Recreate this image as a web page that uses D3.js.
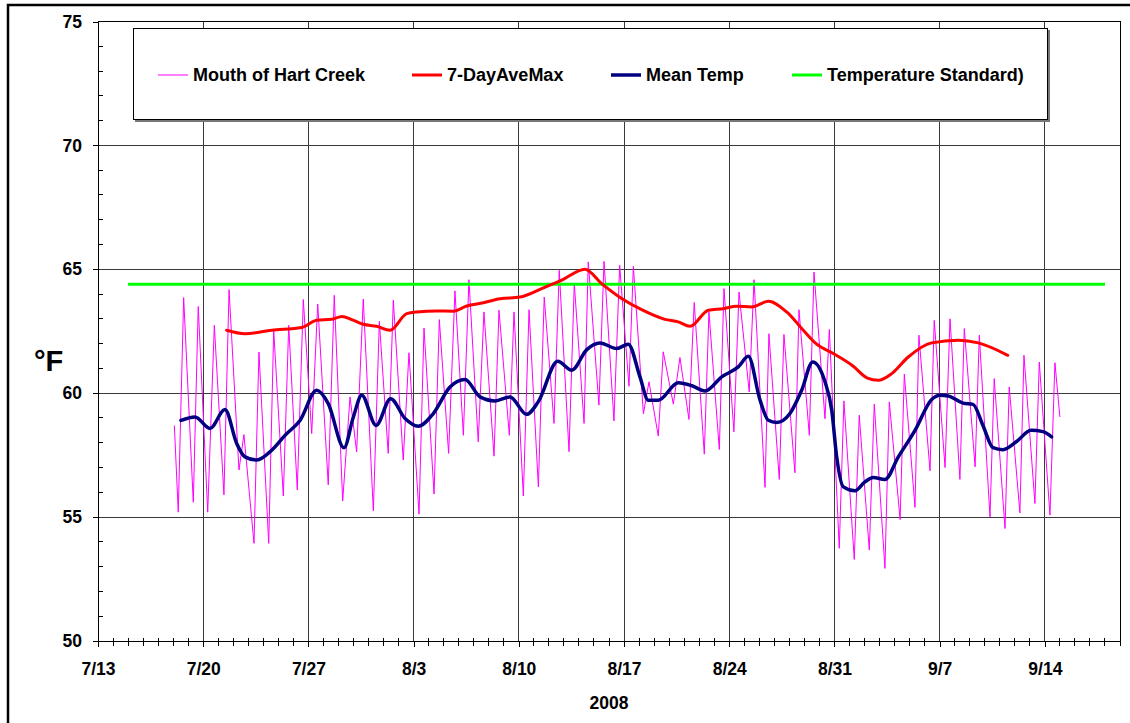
<!DOCTYPE html>
<html><head><meta charset="utf-8">
<script src="https://cdn.jsdelivr.net/npm/d3@7"></script>
<style>
body{margin:0;background:#fff}
svg{display:block}
text{font-family:"Liberation Sans",Arial,Helvetica,sans-serif;font-weight:bold;fill:#000}
</style>
</head><body>
<svg id="c" width="1130" height="723"></svg>
<script>
// ---------------- data ----------------
const xDomain = ["2008-07-13", "2008-09-19"];
const xTickLabels = ["7/13","7/20","7/27","8/3","8/10","8/17","8/24","8/31","9/7","9/14"];
const yDomain = [50, 75];
const yTickValues = [50, 55, 60, 65, 70, 75];
const xTitle = "2008";
const yTitle = "°F";
const seriesNames = ["Mouth of Hart Creek", "7-DayAveMax", "Mean Temp", "Temperature Standard)"];

// Mouth of Hart Creek (days after 7/13 00:00, °F) - daily lows/highs as read
const hartDay = [5.08,5.34,5.70,6.34,6.67,7.30,7.74,8.38,8.72,9.38,
  9.71,10.38,10.71,11.36,11.69,12.33,12.69,13.26,13.66,14.22,
  14.62,15.32,15.72,16.28,16.77,17.21,17.65,18.32,18.72,19.31,
  19.65,20.31,20.69,21.36,21.69,22.36,22.71,23.33,23.75,24.31,
  24.68,25.30,25.68,26.35,26.68,27.37,27.68,28.30,28.68,29.30,
  29.69,30.34,30.69,31.34,31.69,32.34,32.62,33.33,33.67,34.33,
  34.71,35.33,35.62,36.29,36.66,37.28,37.61,38.28,38.72,39.32,
  39.67,40.34,40.65,41.34,41.65,42.31,42.65,43.33,43.65,44.38,
  44.64,45.33,45.64,46.37,46.64,47.33,47.64,48.37,48.66,49.32,
  49.63,50.32,50.65,51.32,51.65,52.36,52.65,53.37,53.65,54.36,
  54.62,55.36,55.64,56.36,56.69,57.35,57.64,58.36,58.64,59.35,
  59.63,60.35,60.63,61.34,61.61,62.34,62.63,63.34,63.67,64.00];
const hartTemp = [58.7,55.2,63.86,55.6,63.5,55.2,62.74,55.9,64.18,56.9,
  58.33,53.94,61.66,53.94,62.54,55.85,62.74,56.1,63.78,58.37,
  63.6,56.3,63.95,55.65,59.85,57.63,63.8,55.25,62.9,57.57,
  63.75,57.3,61.63,55.12,62.63,55.93,62.97,57.57,64.13,58.3,
  64.58,58.04,63.28,57.46,63.35,58.3,63.28,55.85,63.37,56.22,
  63.88,58.78,64.96,57.64,64.42,58.78,65.3,59.52,65.32,58.88,
  65.16,60.28,65.12,59.17,60.46,58.27,61.67,59.56,61.44,58.94,
  63.66,57.54,63.28,57.73,64.22,58.44,64.08,60.05,64.58,56.2,
  62.4,56.52,62.37,56.79,63.37,58.3,64.89,58.97,62.57,53.74,
  59.69,53.29,59.11,53.67,59.56,52.93,59.65,54.9,60.77,55.39,
  62.34,56.87,62.94,57.0,63.0,56.52,62.61,57.03,62.34,55.01,
  60.59,54.54,60.25,55.17,61.53,55.55,61.26,55.08,61.23,59.04];

// 7-DayAveMax
const aveMaxDay = [8.56,9.78,11.56,13.55,14.55,15.55,16.23,16.88,17.65,18.54,
  19.43,20.54,21.20,22.53,23.64,24.53,25.64,26.75,28.08,29.52,
  30.85,32.40,33.51,34.84,36.17,37.72,38.61,39.39,40.61,41.60,
  42.49,43.49,44.60,45.82,46.93,47.82,48.92,50.25,51.16,51.92,
  52.81,53.91,55.47,57.24,58.57,60.53];
const aveMaxTemp = [62.54,62.4,62.54,62.65,62.94,62.98,63.1,62.97,62.78,62.7,
  62.54,63.21,63.28,63.32,63.31,63.52,63.65,63.81,63.88,64.22,
  64.56,65.0,64.42,63.82,63.37,62.98,62.88,62.7,63.35,63.41,
  63.51,63.48,63.71,63.28,62.54,61.98,61.6,61.09,60.62,60.52,
  60.79,61.46,62.03,62.14,62.03,61.53];

// Mean Temp
const meanDay = [5.52,6.45,7.45,8.45,9.23,9.78,10.56,11.56,12.44,13.44,
  14.55,15.32,16.37,16.99,17.55,18.50,19.47,20.43,21.31,22.31,
  23.42,24.42,25.42,26.41,27.41,28.52,29.29,30.59,31.52,32.52,
  33.40,34.51,35.28,36.06,36.61,37.28,38.61,39.52,40.39,41.50,
  42.60,43.27,44.05,44.60,45.16,46.04,46.82,47.55,48.37,48.82,
  49.15,49.59,50.37,51.03,51.58,52.36,53.25,54.36,55.47,56.02,
  56.57,57.55,58.22,58.88,59.55,60.21,61.12,62.08,62.87,63.45];
const meanTemp = [58.9,59.04,58.58,59.34,57.97,57.43,57.3,57.7,58.3,58.9,
  60.12,59.58,57.8,59.04,59.92,58.7,59.78,58.98,58.67,59.18,
  60.25,60.55,59.85,59.69,59.85,59.15,59.65,61.29,60.93,61.76,
  62.03,61.8,61.98,60.66,59.72,59.72,60.42,60.3,60.09,60.66,
  61.06,61.49,59.72,58.91,58.82,59.18,60.12,61.26,60.46,59.31,
  57.43,56.22,56.06,56.42,56.6,56.52,57.43,58.5,59.75,59.92,
  59.89,59.6,59.55,58.7,57.8,57.72,58.05,58.5,58.45,58.24];

// Temperature Standard
const standardDay = [2, 67];
const standardTemp = [64.4, 64.4];

// ---------------- chart ----------------
const svg = d3.select("#c");
const P = {left: 98, top: 21.5, right: 1120, bottom: 641};
const parse = d3.utcParse("%Y-%m-%d");
const start = parse(xDomain[0]), end = parse(xDomain[1]);
const dayDate = d => new Date(start.getTime() + d * 864e5);
const x = d3.scaleUtc().domain([start, end]).range([P.left, P.right]);
const y = d3.scaleLinear().domain(yDomain).range([P.bottom, P.top]);
const tickDates = xTickLabels.map(l => d3.utcParse("%Y/%m/%d")("2008/" + l));

// outer frame
svg.append("rect").attr("x", 8).attr("y", 5).attr("width", 1150).attr("height", 760)
  .attr("fill", "none").attr("stroke", "#000").attr("stroke-width", 2.5);

// gridlines
const grid = svg.append("g").attr("stroke", "#3a3a3a").attr("stroke-width", 1).attr("shape-rendering", "crispEdges");
grid.selectAll("line.h").data(yTickValues.filter(v => v > yDomain[0] && v < yDomain[1])).join("line")
  .attr("x1", P.left).attr("x2", P.right).attr("y1", d => y(d)).attr("y2", d => y(d));
grid.selectAll("line.v").data(tickDates.slice(1)).join("line")
  .attr("y1", P.top).attr("y2", P.bottom).attr("x1", d => x(d)).attr("x2", d => x(d));

// plot frame (top & right)
svg.append("rect").attr("x", P.left).attr("y", P.top).attr("width", P.right - P.left).attr("height", P.bottom - P.top)
  .attr("fill", "none").attr("stroke", "#000").attr("stroke-width", 1).attr("shape-rendering", "crispEdges");

// series
const plot = svg.append("g");
const mk = (days, vals) => days.map((d, i) => [dayDate(d), vals[i]]);
const lineLin = d3.line().x(d => x(d[0])).y(d => y(d[1]));
const lineSm = d3.line().x(d => x(d[0])).y(d => y(d[1])).curve(d3.curveMonotoneX);

plot.append("path").datum(mk(hartDay, hartTemp)).attr("d", lineLin)
  .attr("fill", "none").attr("stroke", "#ff00ff").attr("stroke-width", 1).attr("stroke-linejoin", "round");
plot.append("path").datum(mk(standardDay, standardTemp)).attr("d", lineLin)
  .attr("fill", "none").attr("stroke", "#00ff00").attr("stroke-width", 3);
plot.append("path").datum(mk(aveMaxDay, aveMaxTemp)).attr("d", lineSm)
  .attr("fill", "none").attr("stroke", "#ff0000").attr("stroke-width", 3).attr("stroke-linecap", "round");
plot.append("path").datum(mk(meanDay, meanTemp)).attr("d", lineSm)
  .attr("fill", "none").attr("stroke", "#000080").attr("stroke-width", 3.5).attr("stroke-linecap", "round");

// axes
const xAxis = d3.axisBottom(x).tickValues(tickDates).tickFormat((d, i) => xTickLabels[i])
  .tickSizeInner(6).tickSizeOuter(0).tickPadding(15.5);
const gx = svg.append("g").attr("transform", `translate(0,${P.bottom})`).call(xAxis);
const yAxis = d3.axisLeft(y).tickValues(yTickValues).tickFormat(d3.format("d"))
  .tickSizeInner(5.5).tickSizeOuter(0).tickPadding(10.5);
const gy = svg.append("g").attr("transform", `translate(${P.left},0)`).call(yAxis);
[gx, gy].forEach(g => {
  g.attr("font-family", null).attr("font-size", null);
  g.selectAll("text").style("font-size", "17.5px");
  g.selectAll("path,line").attr("stroke", "#000").attr("shape-rendering", "crispEdges");
});

// minor ticks
const minorX = d3.utcDay.range(start, d3.utcDay.offset(end, 1)).filter(d => !tickDates.some(t => +t === +d));
svg.append("g").attr("stroke", "#000").attr("shape-rendering", "crispEdges")
  .selectAll("line").data(minorX).join("line")
  .attr("x1", d => x(d)).attr("x2", d => x(d)).attr("y1", P.bottom - 3).attr("y2", P.bottom + 4.5);
const minorY = d3.range(yDomain[0] + 1, yDomain[1]).filter(v => v % 5 !== 0);
svg.append("g").attr("stroke", "#000").attr("shape-rendering", "crispEdges")
  .selectAll("line").data(minorY).join("line")
  .attr("x1", P.left).attr("x2", P.left + 5).attr("y1", d => y(d)).attr("y2", d => y(d));

// axis titles
svg.append("text").attr("x", 609).attr("y", 709).attr("text-anchor", "middle").style("font-size", "17.5px").text(xTitle);
svg.append("text").attr("x", 34).attr("y", 371).style("font-size", "29px").text(yTitle);

// legend
const lg = svg.append("g");
lg.append("rect").attr("x", 135).attr("y", 30).attr("width", 915).attr("height", 92).attr("fill", "#777");
lg.append("rect").attr("x", 133.5).attr("y", 28.5).attr("width", 914).attr("height", 91)
  .attr("fill", "#fff").attr("stroke", "#000").attr("stroke-width", 1);
const legendItems = [
  {name: seriesNames[0], color: "#ff00ff", w: 1, x: 158},
  {name: seriesNames[1], color: "#ff0000", w: 3, x: 412},
  {name: seriesNames[2], color: "#000080", w: 3.5, x: 611},
  {name: seriesNames[3], color: "#00ff00", w: 3, x: 792}
];
const li = lg.selectAll("g.item").data(legendItems).join("g").attr("transform", d => `translate(${d.x},0)`);
li.append("line").attr("x1", 0).attr("x2", 30).attr("y1", 75).attr("y2", 75)
  .attr("stroke", d => d.color).attr("stroke-width", d => d.w);
li.append("text").attr("x", 35).attr("y", 81).style("font-size", "18px").text(d => d.name);
</script>
</body></html>
